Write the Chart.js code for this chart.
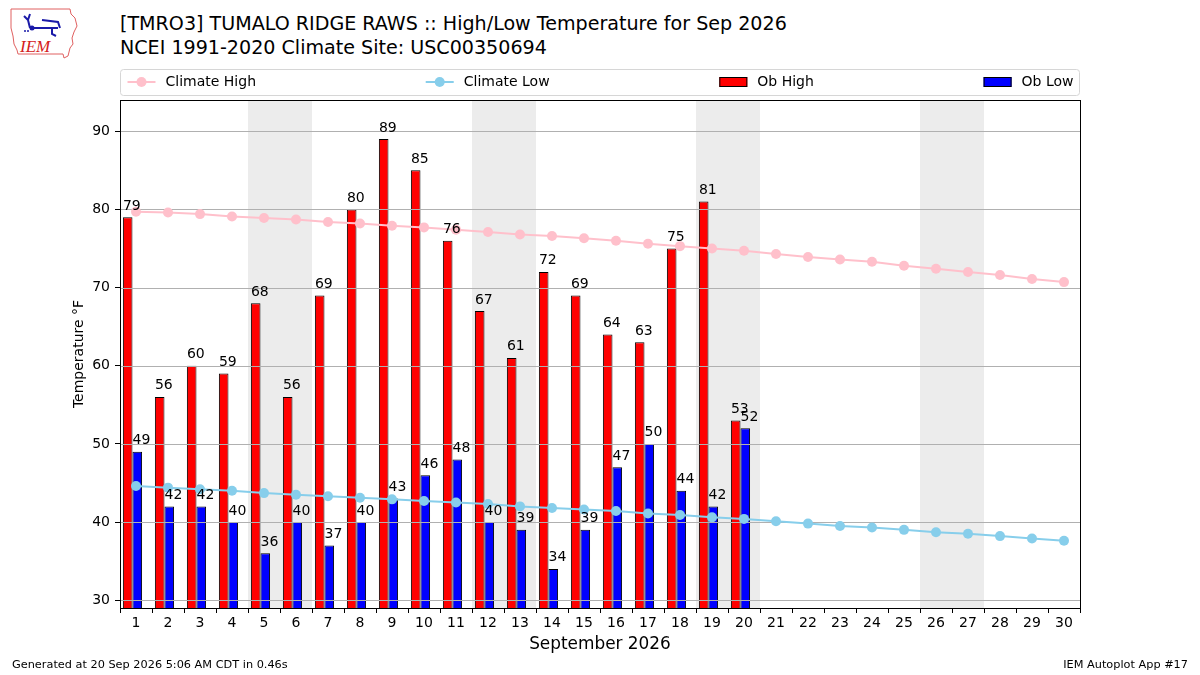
<!DOCTYPE html>
<html>
<head>
<meta charset="utf-8">
<script src="https://cdn.jsdelivr.net/npm/chart.js@4.4.1/dist/chart.umd.min.js"></script>
<style>
  html, body { margin: 0; padding: 0; background: #fff; }
  body { width: 1200px; height: 675px; position: relative; overflow: hidden; font-family: "DejaVu Sans", sans-serif; }
  #c { position: absolute; left: 0; top: 0; }
  .title { position: absolute; left: 120px; font-size: 19.1px; color: #000; white-space: nowrap; line-height: 24px; }
  #t1 { top: 12px; }
  #t2 { top: 36px; }
  .foot { position: absolute; top: 657px; font-size: 11.3px; color: #000; line-height: 16px; white-space: nowrap; }
  #f1 { left: 12px; }
  #f2 { right: 12px; }
  #logo { position: absolute; left: 8px; top: 6px; }
</style>
</head>
<body>
<svg id="logo" width="72" height="54" viewBox="0 0 72 54">
  <path d="M3 3 L62 3 L63 8 L67 12 L69 20 L66 26 L64 32 L65 38 L62 42 L60 50 L56 52 L55 48 L10 48 L9 44 L6 38 L5 30 L3 22 L3 14 Z" fill="none" stroke="#e06060" stroke-width="1"/>
  <text x="12" y="46" font-family="Liberation Serif, serif" font-style="italic" font-size="17" fill="#d42020">IEM</text>
  <path d="M16 10 L20 14 M22 8 L20 14 L22 22 M24 22 L50 22 M34 14 L50 16 L52 22 M44 22 L44 28 L48 30" fill="none" stroke="#1a1aa8" stroke-width="2"/>
  <circle cx="24" cy="22" r="2.5" fill="#1a1aa8"/>
  <circle cx="20" cy="25" r="1" fill="#1a1aa8"/>
  <circle cx="17" cy="25" r="1" fill="#1a1aa8"/>
</svg>
<div class="title" id="t1">[TMRO3] TUMALO RIDGE RAWS :: High/Low Temperature for Sep 2026</div>
<div class="title" id="t2">NCEI 1991-2020 Climate Site: USC00350694</div>
<canvas id="c" width="1200" height="675"></canvas>
<div class="foot" id="f1">Generated at 20 Sep 2026 5:06 AM CDT in 0.46s</div>
<div class="foot" id="f2">IEM Autoplot App #17</div>
<script>
// ---- data ----
const YEAR = 2026;
const MONTH = 9;
const days = [1,2,3,4,5,6,7,8,9,10,11,12,13,14,15,16,17,18,19,20,21,22,23,24,25,26,27,28,29,30];
const obHigh = [79,56,60,59,68,56,69,80,89,85,76,67,61,72,69,64,63,75,81,53];
const obLow  = [49,42,42,40,36,40,37,40,43,46,48,40,39,34,39,47,50,44,42,52];
const climateHigh = [79.7,79.6,79.4,79.1,78.9,78.7,78.4,78.2,77.9,77.7,77.4,77.1,76.8,76.6,76.3,76.0,75.6,75.3,75.0,74.7,74.3,73.9,73.6,73.3,72.8,72.4,72.0,71.6,71.1,70.7];
const climateLow  = [44.6,44.4,44.2,44.0,43.7,43.5,43.3,43.1,42.9,42.7,42.5,42.3,42.0,41.8,41.6,41.4,41.1,40.9,40.6,40.4,40.1,39.8,39.5,39.3,39.0,38.7,38.5,38.2,37.9,37.6];
const yTicks = [30,40,50,60,70,80,90];
const xTitle = 'September 2026';
const yTitle = 'Temperature °F';

// style constants
const BAR_SHIFT = -0.11;
const FONT = '"DejaVu Sans", sans-serif';

const weekendDays = days.filter(d => { const w = new Date(YEAR, MONTH - 1, d).getDay(); return w === 0 || w === 6; });

const shadePlugin = {
  id: 'shade',
  beforeDraw(chart) {
    const {ctx, chartArea: a, scales: {x}} = chart;
    ctx.save();
    ctx.fillStyle = '#ececec';
    weekendDays.forEach(d => {
      const l = x.getPixelForValue(d - 0.5), r = x.getPixelForValue(d + 0.5);
      ctx.fillRect(l, a.top, r - l, a.bottom - a.top);
    });
    ctx.restore();
  }
};

const gridPlugin = {
  id: 'gridOver',
  afterDatasetDraw(chart, args) {
    if (args.index !== 2) return;
    const {ctx, chartArea: a, scales: {y}} = chart;
    ctx.save();
    ctx.strokeStyle = '#b0b0b0';
    ctx.lineWidth = 1;
    y.ticks.forEach(t => {
      const py = Math.round(y.getPixelForValue(t.value)) + 0.5;
      ctx.beginPath(); ctx.moveTo(a.left, py); ctx.lineTo(a.right, py); ctx.stroke();
    });
    ctx.restore();
  }
};

const labelPlugin = {
  id: 'barLabels',
  afterDatasetsDraw(chart) {
    const {ctx} = chart;
    ctx.save();
    ctx.font = '14px ' + FONT;
    ctx.fillStyle = '#000';
    ctx.textAlign = 'left';
    ctx.textBaseline = 'alphabetic';
    [2, 3].forEach(di => {
      const meta = chart.getDatasetMeta(di);
      meta.data.forEach((bar, i) => {
        const v = chart.data.datasets[di].data[i].y;
        ctx.fillText(String(v), bar.x - bar.width / 2, bar.y - 7.5);
      });
    });
    ctx.restore();
  },
  afterDraw(chart) {
    const {ctx, chartArea: a} = chart;
    ctx.save();
    // axes frame
    ctx.strokeStyle = '#000';
    ctx.lineWidth = 1;
    ctx.strokeRect(Math.round(a.left) + 0.5, Math.round(a.top) + 0.5, Math.round(a.right - a.left), Math.round(a.bottom - a.top));
    // legend
    const top = 69.5, bot = 95.5, cy = 82;
    const left = a.left + 0.5, right = a.right - 0.5;
    ctx.fillStyle = 'rgba(255,255,255,0.9)';
    ctx.strokeStyle = '#d6d6d6';
    ctx.beginPath();
    ctx.roundRect(left, top, right - left, bot - top, 3);
    ctx.fill(); ctx.stroke();
    ctx.font = '14px ' + FONT;
    ctx.textBaseline = 'middle';
    ctx.textAlign = 'left';
    const ds = chart.data.datasets;
    const handle = 28, gap = 10, padL = 7, padR = 6;
    const widths = ds.map(d => handle + gap + ctx.measureText(d.label).width);
    const total = widths.reduce((s, w) => s + w, 0);
    const space = (right - left - padL - padR - total) / (ds.length - 1);
    let x = left + padL;
    ds.forEach((d, i) => {
      if (d.type === 'line') {
        ctx.strokeStyle = d.borderColor; ctx.lineWidth = 2;
        ctx.beginPath(); ctx.moveTo(x, cy); ctx.lineTo(x + handle, cy); ctx.stroke();
        ctx.fillStyle = d.pointBackgroundColor;
        ctx.beginPath(); ctx.arc(x + handle / 2, cy, 5, 0, Math.PI * 2); ctx.fill();
      } else {
        ctx.fillStyle = d.backgroundColor;
        ctx.fillRect(x, cy - 5, handle, 10);
        ctx.strokeStyle = '#000'; ctx.lineWidth = 1;
        ctx.strokeRect(x + 0.5, cy - 4.5, handle - 1, 9);
      }
      ctx.fillStyle = '#000';
      ctx.fillText(d.label, x + handle + gap, cy);
      x += widths[i] + space;
    });
    ctx.restore();
  }
};

new Chart(document.getElementById('c'), {
  type: 'bar',
  data: {
    datasets: [
      { type: 'line', label: 'Climate High', data: days.map((d, i) => ({x: d, y: climateHigh[i]})),
        borderColor: '#ffc0cb', backgroundColor: '#ffc0cb', pointBackgroundColor: '#ffc0cb', pointBorderWidth: 0,
        borderWidth: 2, pointRadius: 5, tension: 0 },
      { type: 'line', label: 'Climate Low', data: days.map((d, i) => ({x: d, y: climateLow[i]})),
        borderColor: '#87ceeb', backgroundColor: '#87ceeb', pointBackgroundColor: '#87ceeb', pointBorderWidth: 0,
        borderWidth: 2, pointRadius: 5, tension: 0 },
      { type: 'bar', label: 'Ob High', data: obHigh.map((v, i) => ({x: days[i] + BAR_SHIFT, y: v})),
        backgroundColor: '#ff0000', borderColor: '#000', borderWidth: 1, categoryPercentage: 0.6, barPercentage: 1.0 },
      { type: 'bar', label: 'Ob Low', data: obLow.map((v, i) => ({x: days[i] + BAR_SHIFT, y: v})),
        backgroundColor: '#0000ff', borderColor: '#000', borderWidth: 1, categoryPercentage: 0.6, barPercentage: 1.0 }
    ]
  },
  options: {
    responsive: false,
    animation: false,
    devicePixelRatio: 1,
    layout: { padding: { left: 67, right: 120, top: 100, bottom: 17 } },
    plugins: { legend: { display: false }, tooltip: { enabled: false }, title: { display: false } },
    scales: {
      x: {
        type: 'linear', min: 0.5, max: 30.5, offset: false,
        afterBuildTicks(s) { s.ticks = days.map(v => ({value: v})); },
        afterFit(s) { s.height = 50; },
        ticks: { color: '#000', font: { family: FONT, size: 14 }, padding: 2, maxRotation: 0, autoSkip: false },
        grid: { drawOnChartArea: false, drawTicks: true, tickLength: 5, tickColor: '#000', tickWidth: 1 },
        border: { display: false },
        title: { display: true, text: xTitle, color: '#000', font: { family: FONT, size: 16.9 }, padding: { top: 4, bottom: 3 } }
      },
      y: {
        min: 29, max: 94,
        afterBuildTicks(s) { s.ticks = yTicks.map(v => ({value: v})); },
        afterFit(s) { s.width = 53; },
        ticks: { color: '#000', font: { family: FONT, size: 14 }, padding: 5 },
        grid: { drawOnChartArea: false, drawTicks: true, tickLength: 5, tickColor: '#000', tickWidth: 1 },
        border: { display: false },
        title: { display: true, text: yTitle, color: '#000', font: { family: FONT, size: 14 }, padding: { top: 4, bottom: 4 } }
      }
    }
  },
  plugins: [shadePlugin, gridPlugin, labelPlugin]
});
</script>
</body>
</html>
